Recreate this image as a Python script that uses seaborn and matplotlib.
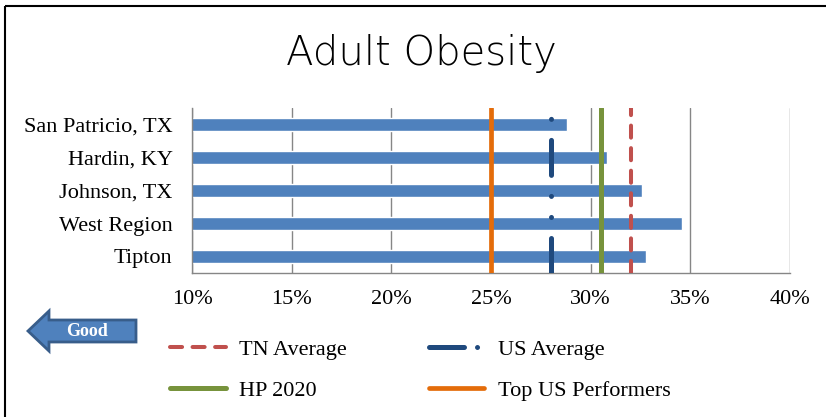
import matplotlib
matplotlib.use("Agg")
import matplotlib.pyplot as plt
import pandas as pd
import seaborn as sns
from matplotlib.lines import Line2D
from matplotlib.patches import FancyArrow, Rectangle

# ---- data ----
categories = ["San Patricio, TX", "Hardin, KY", "Johnson, TX", "West Region", "Tipton"]
values = [28.8, 30.8, 32.6, 34.6, 32.8]
ref_names = ["TN Average", "US Average", "HP 2020", "Top US Performers"]
ref_values = [32.0, 28.0, 30.5, 25.0]
xticks = [10, 15, 20, 25, 30, 35, 40]
xtick_labels = [f"{t}%" for t in xticks]
title = "Adult Obesity"
arrow_label = "Good"

sns.set_theme(style="white")
plt.rcParams["font.family"] = ["Liberation Serif", "DejaVu Serif"]
plt.rcParams["text.color"] = "black"

W, H = 826, 417
fig = plt.figure(figsize=(W / 100, H / 100), dpi=100)
ax = fig.add_axes([192 / W, 1 - 273 / H, 598 / W, 165 / H])

df = pd.DataFrame({"region": categories, "pct": values})
sns.barplot(data=df, x="pct", y="region", orient="h", color="#4F81BD",
            saturation=1, width=0.4, ax=ax, zorder=2)

ax.set_xlim(10, 40)
ax.set_ylim(4.5, -0.5)
ax.set_xticks(xticks)
ax.set_xticklabels(xtick_labels)
ax.set_xlabel("")
ax.set_ylabel("")
ax.grid(axis="x", color="#868686", lw=1)
ax.grid(axis="y", visible=False)
ax.set_axisbelow(True)
for s in ["top", "right"]:
    ax.spines[s].set_visible(False)
for s in ["left", "bottom"]:
    ax.spines[s].set_color("#868686")
    ax.spines[s].set_linewidth(1)
ax.tick_params(axis="x", length=0, labelsize=16, pad=12, labelcolor="black")
ax.tick_params(axis="y", length=0, labelsize=16, pad=14, labelcolor="black")

styles = {
    "TN Average": dict(color="#C0504D", lw=2.9, linestyle=(0, (3.0, 2.6)),
                       dash_capstyle="round"),
    "US Average": dict(color="#1F497D", lw=3.6,
                       linestyle=(0, (7, 4.2, 0.01, 4.2, 0.01, 4.2)),
                       dash_capstyle="round"),
    "HP 2020": dict(color="#77933C", lw=3.6, linestyle="-"),
    "Top US Performers": dict(color="#E46C0A", lw=3.4, linestyle="-"),
}
handles = {}
for name, v in zip(ref_names, ref_values):
    handles[name] = ax.axvline(v, label=name, zorder=3, **styles[name])

# legend proxy so the short sample shows the dash + dot of the US line
us_proxy = Line2D([], [], color="#1F497D", lw=3.6,
                  linestyle=(0, (7, 2.6, 0.01, 20)), dash_capstyle="round")
handles["US Average"] = us_proxy

order = ["TN Average", "HP 2020", "US Average", "Top US Performers"]
leg = fig.legend(handles=[handles[n] for n in order], labels=order, ncol=2,
                 loc="upper left", bbox_to_anchor=(170 / W, 1 - 339 / H),
                 frameon=False, fontsize=16, handlelength=2.5,
                 handletextpad=0.6, columnspacing=3.7, labelspacing=0.93,
                 borderpad=0, borderaxespad=0)
for t in leg.get_texts():
    t.set_color("black")

fig.text(421.5 / W, 1 - 65 / H, title, ha="center", va="baseline",
         fontsize=29, color="black",
         family=["DejaVu Sans", "Liberation Sans"], fontweight=200)

# overlay in pixel coordinates for the decorative arrow and frame
ov = fig.add_axes([0, 0, 1, 1])
ov.set_xlim(0, W)
ov.set_ylim(H, 0)
ov.axis("off")
ov.patch.set_alpha(0)
ov.add_patch(FancyArrow(136, 331, -108, 0, width=22, head_width=40,
                        head_length=21, length_includes_head=True,
                        fc="#4F81BD", ec="#385D8A", lw=2))
ov.text(87, 331, arrow_label, color="white", fontweight="bold", fontsize=13,
        ha="center", va="center")
ov.add_patch(Rectangle((5, 6), 900, 500, fill=False, ec="black", lw=1.5))

fig.savefig("out.png", dpi=100)
